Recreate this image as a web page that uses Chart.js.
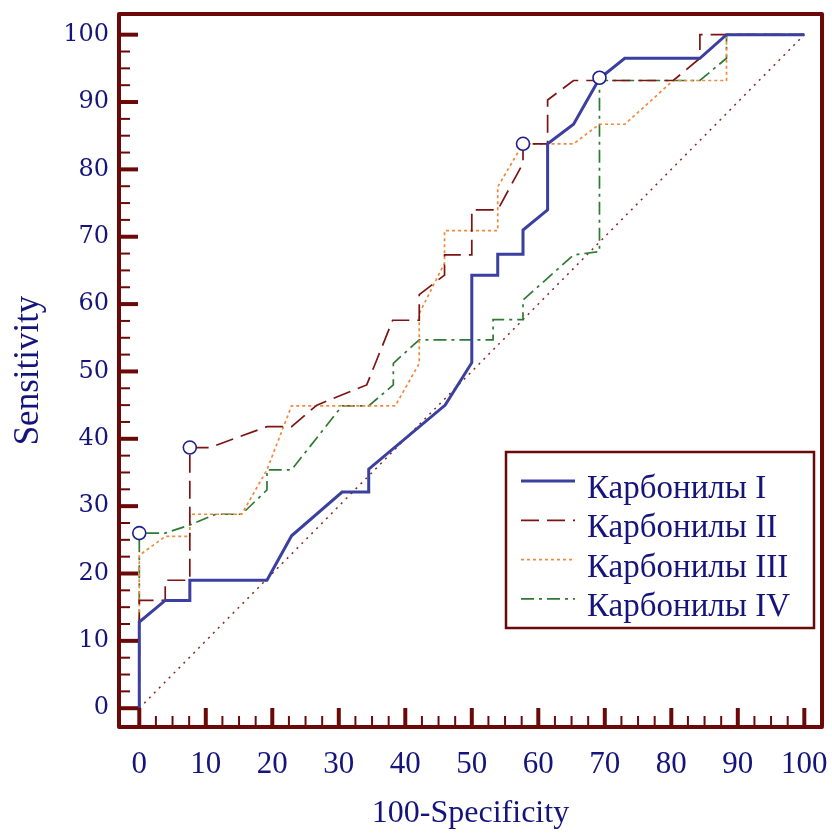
<!DOCTYPE html>
<html>
<head>
<meta charset="utf-8">
<script src="https://cdn.jsdelivr.net/npm/chart.js@4.4.0/dist/chart.umd.min.js"></script>
<style>
  html, body { margin: 0; padding: 0; background: #fff; }
  #wrap { width: 832px; height: 833px; position: relative; }
</style>
</head>
<body>
<div id="wrap"><canvas id="roc"></canvas></div>
<script>
// ROC curves, [100-Specificity, Sensitivity]
const seriesNames = ['Карбонилы I', 'Карбонилы II', 'Карбонилы III', 'Карбонилы IV'];

const karbonilyI = [[0,0],[0,12.8],[3.9,16],[7.6,16],[7.6,19],[19.2,19],[22.9,25.6],[30.5,32.1],[34.5,32.1],[34.5,35.5],[46,45],[50,51.3],[50,64.3],[53.9,64.3],[53.9,67.4],[57.7,67.4],[57.7,71],[61.4,74],[61.4,83.8],[65.3,86.7],[69.2,93.5],[73,96.5],[84.3,96.5],[88.3,100],[100,100]];

const karbonilyII = [[0,0],[0,16],[3.9,16],[3.9,19],[7.6,19],[7.6,38.7],[10.6,38.7],[19.2,41.8],[22.9,41.8],[26.7,45],[34.2,48],[38.1,57.6],[42.1,57.6],[42.1,61.4],[45.9,64.3],[45.9,67.3],[50,67.3],[50,74],[53.9,74],[57.7,80.9],[57.7,83.8],[61.4,83.8],[61.4,90.3],[65.3,93.2],[80.3,93.2],[84.3,96.5],[84.3,100],[100,100]];

const karbonilyIII = [[0,0],[0,22.7],[3.9,25.5],[7.6,25.5],[7.6,28.8],[15.4,28.8],[19.2,35.4],[22.9,44.9],[38.5,44.9],[42.1,51.2],[42.1,58.6],[45.9,66.1],[45.9,70.9],[53.9,70.9],[53.9,77.4],[57.7,83.8],[65.3,83.8],[69.2,86.7],[73,86.7],[80.3,93.2],[88.3,93.2],[88.3,100],[100,100]];

const karbonilyIV = [[0,0],[0,26],[3.9,26],[7.6,27.2],[11.5,28.8],[15.4,28.8],[19.2,32.4],[19.2,35.4],[22.9,35.4],[30.5,44.9],[34.5,44.9],[38.2,48],[38.2,51.2],[42.1,54.7],[53.2,54.7],[53.2,57.7],[57.7,57.7],[57.7,60.6],[65.3,67.3],[69.2,67.8],[69.2,93.2],[84.3,93.2],[88.3,96.5],[88.3,100],[100,100]];

const cutoffPoints = [[0,26],[7.6,38.7],[57.7,83.8],[69.2,93.6]];
const referenceLine = [[0,0],[100,100]];

const xTicks = [0,10,20,30,40,50,60,70,80,90,100];
const yTicks = [0,10,20,30,40,50,60,70,80,90,100];

// styles
const navy = '#14147c';
const frameColor = '#6b0909';
const seriesStyles = [
  { color: '#3b3f9f', width: 3,   dash: [] },
  { color: '#7c1414', width: 1.7, dash: [18, 8] },
  { color: '#f2883a', width: 1.7, dash: [3, 3] },
  { color: '#2e7a32', width: 1.7, dash: [13, 5, 3, 5] }
];

const toXY = arr => arr.map(p => ({ x: p[0], y: p[1] }));
const allSeries = [karbonilyI, karbonilyII, karbonilyIII, karbonilyIV];

const datasets = allSeries.map((s, i) => ({
  label: seriesNames[i],
  data: toXY(s),
  showLine: true,
  borderColor: seriesStyles[i].color,
  borderWidth: seriesStyles[i].width,
  borderDash: seriesStyles[i].dash,
  pointRadius: 0,
  tension: 0,
  order: i === 0 ? 1 : 2 + i
}));

datasets.push({
  label: 'reference',
  data: toXY(referenceLine),
  showLine: true,
  borderColor: '#8a2525',
  borderWidth: 1.5,
  borderDash: [2, 5],
  pointRadius: 0,
  order: 20
});

datasets.push({
  label: 'cutoff',
  data: toXY(cutoffPoints),
  showLine: false,
  pointRadius: 6.5,
  pointBorderWidth: 1.6,
  pointBorderColor: '#1e1e8c',
  pointBackgroundColor: '#ffffff',
  order: 0
});

// frame with inward ticks + boxed legend
const framePlugin = {
  id: 'frame',
  afterDraw(chart) {
    const { ctx, chartArea: a, scales } = chart;
    ctx.save();
    ctx.strokeStyle = frameColor;
    ctx.lineCap = 'butt';
    // ticks (major every 10, minor every 2.5)
    for (let v = 0; v <= 100; v += 2.5) {
      const major = v % 10 === 0;
      ctx.lineWidth = major ? 4 : 2;
      const len = major ? 19 : 11;
      const px = scales.x.getPixelForValue(v);
      ctx.beginPath();
      ctx.moveTo(px, a.bottom);
      ctx.lineTo(px, a.bottom - len);
      ctx.stroke();
      const py = scales.y.getPixelForValue(v);
      ctx.beginPath();
      ctx.moveTo(a.left, py);
      ctx.lineTo(a.left + len, py);
      ctx.stroke();
    }
    ctx.lineWidth = 4;
    ctx.lineJoin = 'round';
    ctx.strokeRect(a.left, a.top, a.right - a.left, a.bottom - a.top);

    // legend
    const bw = 308, bh = 176;
    const bx = a.right - 8 - bw, by = a.bottom - 99 - bh;
    ctx.fillStyle = '#ffffff';
    ctx.fillRect(bx, by, bw, bh);
    ctx.lineWidth = 2.5;
    ctx.lineJoin = 'miter';
    ctx.strokeRect(bx, by, bw, bh);
    ctx.font = '33px "Liberation Serif"';
    ctx.textBaseline = 'alphabetic';
    ctx.textAlign = 'left';
    seriesNames.forEach((name, i) => {
      const base = by + 46 + i * 39.3;
      const st = seriesStyles[i];
      ctx.strokeStyle = st.color;
      ctx.lineWidth = st.width;
      ctx.setLineDash(st.dash);
      ctx.beginPath();
      ctx.moveTo(bx + 15, base - 17);
      ctx.lineTo(bx + 69, base - 17);
      ctx.stroke();
      ctx.setLineDash([]);
      ctx.fillStyle = navy;
      ctx.fillText(name, bx + 81, base);
    });
    ctx.restore();
  }
};

new Chart(document.getElementById('roc'), {
  type: 'scatter',
  data: { datasets: datasets },
  plugins: [framePlugin],
  options: {
    responsive: true,
    maintainAspectRatio: false,
    animation: false,
    layout: { padding: { top: 14, right: 10, left: 0, bottom: 0 } },
    plugins: { legend: { display: false }, tooltip: { enabled: false } },
    scales: {
      x: {
        type: 'linear',
        min: -3.05,
        max: 102.66,
        afterBuildTicks: s => { s.ticks = xTicks.map(v => ({ value: v })); },
        afterFit: s => { s.height = 106; s.paddingLeft = 0; s.paddingRight = 0; },
        grid: { display: false, drawTicks: false },
        border: { display: false },
        ticks: { color: navy, padding: 19, maxRotation: 0, font: { family: 'Liberation Serif', size: 31 } },
        title: { display: true, text: '100-Specificity', color: navy, padding: 0, font: { family: 'Liberation Serif', size: 32 } }
      },
      y: {
        type: 'linear',
        min: -2.79,
        max: 103.07,
        afterBuildTicks: s => { s.ticks = yTicks.map(v => ({ value: v })); },
        afterFit: s => { s.width = 119; s.paddingTop = 0; s.paddingBottom = 0; },
        grid: { display: false, drawTicks: false },
        border: { display: false },
        ticks: { color: navy, padding: 10, font: { family: 'DejaVu Serif', size: 24 } },
        title: { display: true, text: 'Sensitivity', color: navy, padding: { top: 8 }, font: { family: 'Liberation Serif', size: 35 } }
      }
    }
  }
});
</script>
</body>
</html>
